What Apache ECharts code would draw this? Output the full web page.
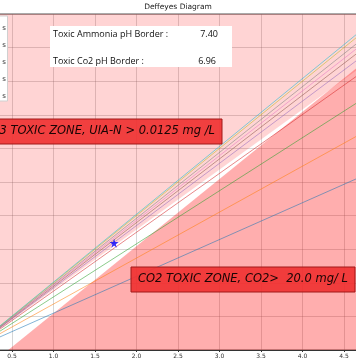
<!DOCTYPE html>
<html>
<head>
<meta charset="utf-8">
<script src="https://cdn.jsdelivr.net/npm/echarts@6/dist/echarts.min.js"></script>
<style>
html,body{margin:0;padding:0;background:#fff;}
#c{width:356px;height:364px;}
</style>
</head>
<body>
<div id="c"></div>
<script>
// ---- data ----
const xTicks = [0, 0.5, 1.0, 1.5, 2.0, 2.5, 3.0, 3.5, 4.0, 4.5, 5.0];
const lineDicEnd = 5;
// alkalinity reached at DIC = 5 by each pH isopleth (through the origin)
const phLineAlkEnd = [2.74, 3.42, 3.95, 4.38, 4.63, 4.74, 4.82, 4.90, 5.00, 5.05];
const phLineColors = ['#1f77b4','#ff7f0e','#2ca02c','#d62728','#9467bd','#8c564b','#e377c2','#7f7f7f','#bcbd22','#17becf'];
// ammonia (pH 7.40) border and CO2 (20 mg/L) border
const ammoniaBorder = [[0, 0], [5, 4.475]];
const co2Border = [[0.455, 0], [5, 4.545]];
const samplePoint = [[1.73, 1.59]];
const infoLabels = ['Toxic Ammonia pH Border :', 'Toxic Co2 pH Border :'];
const infoValues = ['7.40', '6.96'];
const legendTail = ['s', 's', 's', 's', 's'];

const chart = echarts.init(document.getElementById('c'), null, {renderer: 'canvas'});

const series = [];
series.push({
  type: 'line', data: ammoniaBorder, symbol: 'none', silent: true,
  lineStyle: {width: 0}, areaStyle: {color: 'rgba(255,0,0,0.24)', origin: 'end'}, z: 1
});
series.push({
  type: 'line', data: co2Border, symbol: 'none', silent: true,
  lineStyle: {width: 0}, areaStyle: {color: 'rgba(255,0,0,0.45)', origin: 'start'}, z: 1
});
phLineAlkEnd.forEach((a, i) => {
  series.push({
    type: 'line', data: [[0, 0], [lineDicEnd, a]], symbol: 'none', silent: true,
    lineStyle: {width: 1, color: phLineColors[i], opacity: 0.55}, z: 2
  });
});
series.push({
  type: 'scatter', data: samplePoint, z: 5,
  symbol: 'path://M50,0 L61,35 L98,35 L68,57 L79,91 L50,70 L21,91 L32,57 L2,35 L39,35 Z',
  symbolSize: 9, itemStyle: {color: '#0000ff'}
});

const graphic = [
  {type: 'text', left: 'center', top: 3, z: 100,
   style: {text: 'Deffeyes Diagram', fontSize: 7.5, fontFamily: 'DejaVu Sans', fill: '#222'}},
  {type: 'rect', shape: {x: 50, y: 26, width: 182, height: 41}, z: 100, style: {fill: '#fff'}},
  {type: 'text', x: 53, y: 34, z: 101, style: {text: infoLabels[0], fontSize: 9, fontFamily: 'Open Sans', fill: '#111', verticalAlign: 'middle'}},
  {type: 'text', x: 218, y: 34, z: 101, style: {text: infoValues[0], fontSize: 9, fontFamily: 'Open Sans', fill: '#111', align: 'right', verticalAlign: 'middle'}},
  {type: 'text', x: 53, y: 61, z: 101, style: {text: infoLabels[1], fontSize: 9, fontFamily: 'Open Sans', fill: '#111', verticalAlign: 'middle'}},
  {type: 'text', x: 216, y: 61, z: 101, style: {text: infoValues[1], fontSize: 9, fontFamily: 'Open Sans', fill: '#111', align: 'right', verticalAlign: 'middle'}},
  {type: 'rect', shape: {x: -5, y: 119, width: 227, height: 25}, z: 100,
   style: {fill: 'rgba(240,50,50,0.92)', stroke: '#a01818', lineWidth: 1}},
  {type: 'text', x: 215, y: 131.5, z: 101,
   style: {text: 'NH3 TOXIC ZONE, UIA-N > 0.0125 mg /L', fontSize: 11.5, fontStyle: 'italic', fontFamily: 'DejaVu Sans', fill: '#1a0505', align: 'right', verticalAlign: 'middle'}},
  {type: 'rect', shape: {x: 131, y: 267, width: 224, height: 25}, z: 100,
   style: {fill: 'rgba(240,50,50,0.92)', stroke: '#a01818', lineWidth: 1}},
  {type: 'text', x: 138, y: 279.5, z: 101,
   style: {text: 'CO2 TOXIC ZONE, CO2>  20.0 mg/ L', fontSize: 11.5, fontStyle: 'italic', fontFamily: 'DejaVu Sans', fill: '#1a0505', verticalAlign: 'middle'}},
  {type: 'rect', shape: {x: -4, y: 16, width: 11.5, height: 85}, z: 100,
   style: {fill: '#fff', stroke: '#d0d0d0', lineWidth: 1}}
];
legendTail.forEach((t, i) => {
  graphic.push({type: 'text', x: 6, y: 28 + i * 17, z: 101,
    style: {text: t, fontSize: 7, fontFamily: 'DejaVu Sans', fill: '#333', align: 'right', verticalAlign: 'middle'}});
});

chart.setOption({
  animation: false,
  backgroundColor: '#fff',
  grid: {left: -29.5, right: -29.5, top: 14, bottom: 14, containLabel: false, outerBoundsMode: 'none',
    show: true, borderColor: '#555', borderWidth: 1, backgroundColor: '#fff'},
  xAxis: {
    type: 'value', min: xTicks[0], max: xTicks[xTicks.length - 1], interval: 0.5,
    axisLine: {show: true, lineStyle: {color: '#333', width: 1}},
    axisTick: {show: true, length: 2, lineStyle: {color: '#333'}},
    axisLabel: {fontSize: 6, color: '#333', fontFamily: 'DejaVu Sans', margin: 3,
      formatter: v => v.toFixed(1)},
    splitLine: {show: true, lineStyle: {color: 'rgba(120,120,120,0.3)', width: 1}}
  },
  yAxis: {
    type: 'value', min: 0, max: 5, interval: 0.5,
    axisLine: {show: false}, axisTick: {show: false}, axisLabel: {show: false},
    splitLine: {show: true, lineStyle: {color: 'rgba(120,120,120,0.3)', width: 1}}
  },
  series: series,
  graphic: graphic
});
</script>
</body>
</html>
